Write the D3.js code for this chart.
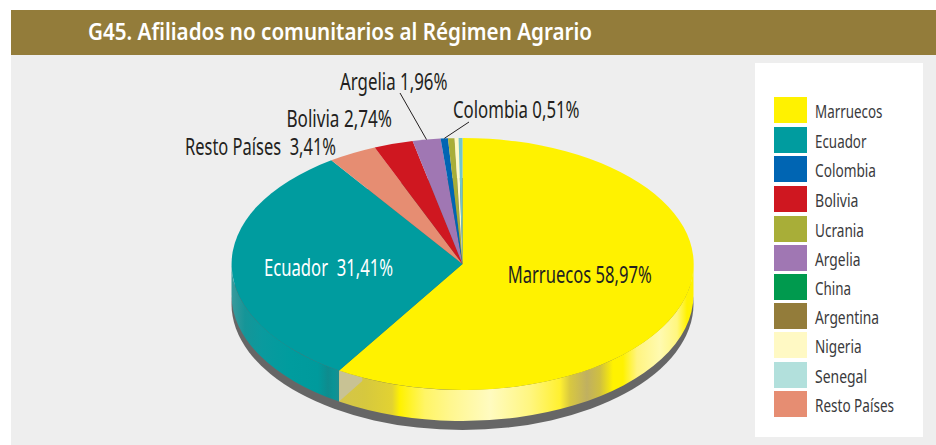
<!DOCTYPE html>
<html><head><meta charset="utf-8">
<script src="https://cdn.jsdelivr.net/npm/d3@7"></script>
<style>html,body{margin:0;padding:0;background:#fff}svg{display:block}text{font-family:"Noto Sans","Open Sans",sans-serif}</style>
</head><body><svg id="c" width="936" height="445"></svg>
<script>
// ---- data ----
const titleText = "G45. Afiliados no comunitarios al Régimen Agrario";
const legendNames = ["Marruecos","Ecuador","Colombia","Bolivia","Ucrania","Argelia","China","Argentina","Nigeria","Senegal","Resto Países"];
const legendColors = ["#fff200","#009c9f","#0065b3","#cf1720","#a8ae38","#a077b3","#009a4e","#937c3a","#fff9c4","#b2e0dc","#e68d72"];
const sliceNames = ["Marruecos","Ecuador","Resto Países","Bolivia","Argelia","Colombia","Ucrania","China","Argentina","Nigeria","Senegal"];
const sliceValues = [58.97,31.41,3.41,2.74,1.96,0.51,0.44,0.01,0.01,0.27,0.27];
const labelTexts = ["Marruecos 58,97%","Ecuador  31,41%","Resto Países  3,41%","Bolivia 2,74%","Argelia 1,96%","Colombia 0,51%"];

// ---- layout ----
const W=936,H=445, cx=462.5, cy=264, rx=231, ry=126, depth=31, shadowDrop=40;
const labelLayout = [
 {x:507.7,y:283,w:144,c:"#231f20"},
 {x:264,y:276,w:129,c:"#ffffff"},
 {x:185,y:155,w:151,c:"#231f20"},
 {x:286.5,y:127,w:105.5,c:"#231f20"},
 {x:340,y:90,w:107.5,c:"#231f20"},
 {x:453,y:118,w:126.5,c:"#231f20"}];
const legendWidths=[67.5,51.5,61,43.5,49,45.5,36,64,46.5,52,79];
const legendTops=[97,127,156,186,216,245,274,303,332,362,391];
const leaders=[{name:"Argelia",end:[400,93]},{name:"Colombia",end:[469,122]}];
const yellowStops=[[340,"#d4c54a"],[365,"#d6c83e"],[392,"#e2d232"],[400,"#fff200"],[425,"#fff566"],[450,"#fff78e"],[490,"#fffbc0"],[530,"#fff680"],[560,"#fff030"],[570,"#d8c840"],[587,"#c0b060"],[600,"#d0c040"],[613,"#fff200"],[623,"#fff200"],[637,"#fff480"],[660,"#fffab0"],[677,"#fff680"],[687,"#fff200"],[694,"#fff200"]];
const tealStops=[[232,"#3a9a9c"],[245,"#159598"],[262,"#0a9a9e"],[290,"#009c9e"],[318,"#009a9c"],[328,"#0e8c8e"],[334,"#0a9496"],[340,"#208c8e"]];

const svg=d3.select("#c");
const defs=svg.append("defs");
function grad(id,stops){
  const x0=stops[0][0],x1=stops[stops.length-1][0];
  const g=defs.append("linearGradient").attr("id",id).attr("gradientUnits","userSpaceOnUse").attr("x1",x0).attr("x2",x1).attr("y1",0).attr("y2",0);
  stops.forEach(s=>g.append("stop").attr("offset",(s[0]-x0)/(x1-x0)).attr("stop-color",s[1]));
}
grad("g-Marruecos",yellowStops); grad("g-Ecuador",tealStops);

// background
svg.append("rect").attr("x",11).attr("y",55).attr("width",W-11).attr("height",H-55).attr("fill","#eeeeee");
svg.append("rect").attr("x",11).attr("y",10).attr("width",W-11).attr("height",45).attr("fill","#937c3a");
svg.append("text").attr("x",88).attr("y",40).attr("fill","#fff").attr("font-size",24).attr("font-weight",600)
  .attr("textLength",504).attr("lengthAdjust","spacingAndGlyphs").text(titleText);

// pie
const colorOf=d3.scaleOrdinal().domain(legendNames).range(legendColors);
const pie=d3.pie().sort(null).value((d,i)=>sliceValues[i]);
const arcs=pie(sliceNames);
const sx=d3.scaleLinear().domain([-1,1]).range([cx-rx,cx+rx]);
const sy=d3.scaleLinear().domain([-1,1]).range([cy-ry,cy+ry]);
const pt=(a,dy=0)=>[sx(Math.sin(a)),sy(-Math.cos(a))+dy];

svg.append("ellipse").attr("cx",cx).attr("cy",cy+shadowDrop).attr("rx",rx).attr("ry",ry).attr("fill","#666666");

// side walls
function sidePath(a0,a1){
  const s=Math.max(a0,Math.PI/2),e=Math.min(a1,Math.PI*1.5);
  if(e<=s) return null;
  const p0=pt(s),p1=pt(e),q1=pt(e,depth),q0=pt(s,depth);
  const lg=(e-s)>Math.PI?1:0;
  return `M${p0}A${rx},${ry} 0 ${lg} 1 ${p1}L${q1}A${rx},${ry} 0 ${lg} 0 ${q0}Z`;
}
svg.append("g").selectAll("path").data(arcs.filter(d=>sidePath(d.startAngle,d.endAngle))).join("path")
  .attr("d",d=>sidePath(d.startAngle,d.endAngle))
  .attr("fill",d=>`url(#g-${d.data})`);

// pale facet at the seam between the two visible walls
const seam=arcs[0].endAngle, seamTo=seam-0.115;
const st=pt(seam), sb=pt(seam,depth), et=pt(seamTo);
svg.append("path").attr("d",`M${st}A${rx},${ry} 0 0 0 ${et}L${[et[0],sb[1]-(et[0]-st[0])*0.88]}L${sb}Z`)
   .attr("fill","#c8c294");

// top face
const arcGen=d3.arc().innerRadius(0).outerRadius(1);
const sliceColor=d=>d.data==="Senegal"?"#70c6cc":colorOf(d.data);
svg.append("g").attr("transform",`translate(${cx},${cy}) scale(${rx},${ry})`)
  .selectAll("path").data(arcs).join("path").attr("d",arcGen).attr("fill",sliceColor);

// leaders
const leaderG=svg.append("g");
leaders.forEach(l=>{
  const a=arcs[sliceNames.indexOf(l.name)];
  const p=pt((a.startAngle+a.endAngle)/2);
  leaderG.append("line").attr("x1",l.end[0]).attr("y1",l.end[1]).attr("x2",p[0]).attr("y2",p[1]).attr("stroke","#231f20").attr("stroke-width",1);
});

// labels
svg.append("g").selectAll("text").data(labelTexts).join("text")
 .attr("x",(d,i)=>labelLayout[i].x).attr("y",(d,i)=>labelLayout[i].y)
 .attr("fill",(d,i)=>labelLayout[i].c).attr("font-size",23).attr("xml:space","preserve").style("white-space","pre")
 .attr("textLength",(d,i)=>labelLayout[i].w).attr("lengthAdjust","spacingAndGlyphs").text(d=>d);

// legend
svg.append("rect").attr("x",755).attr("y",63).attr("width",168).attr("height",374).attr("fill","#fff");
const lg=svg.append("g").selectAll("g").data(legendNames).join("g");
lg.append("rect").attr("x",774).attr("y",(d,i)=>legendTops[i]).attr("width",33).attr("height",26).attr("fill",d=>colorOf(d));
lg.append("text").attr("x",815).attr("y",(d,i)=>legendTops[i]+21).attr("fill","#3a3a3c").attr("font-size",18)
  .attr("textLength",(d,i)=>legendWidths[i]).attr("lengthAdjust","spacingAndGlyphs").text(d=>d);
</script></body></html>
